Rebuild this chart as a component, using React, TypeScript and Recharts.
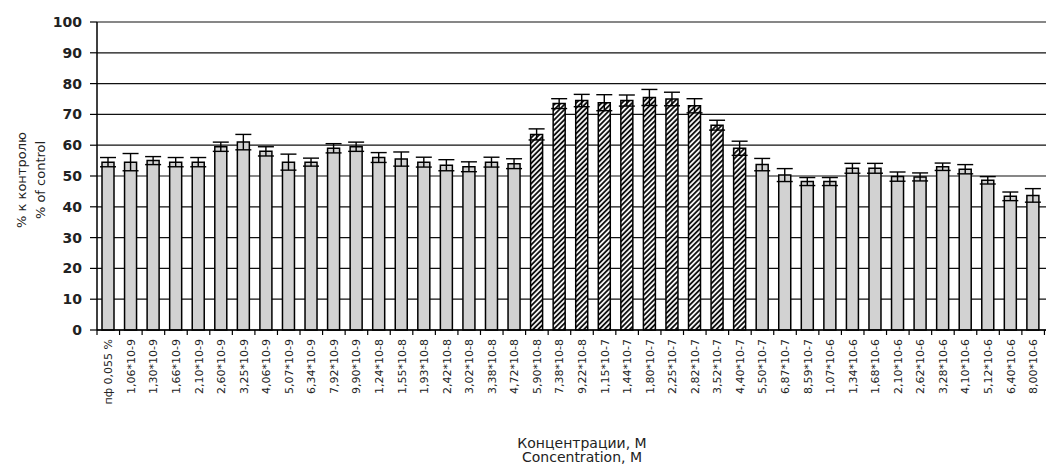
import { BarChart, Bar, XAxis, YAxis, CartesianGrid, ErrorBar, Cell } from "recharts"

const categories = [
  "пф 0,055 %", "1,06*10-9", "1,30*10-9", "1,66*10-9", "2,10*10-9", "2,60*10-9",
  "3,25*10-9", "4,06*10-9", "5,07*10-9", "6,34*10-9", "7,92*10-9", "9,90*10-9",
  "1,24*10-8", "1,55*10-8", "1,93*10-8", "2,42*10-8", "3,02*10-8", "3,38*10-8",
  "4,72*10-8", "5,90*10-8", "7,38*10-8", "9,22*10-8", "1,15*10-7", "1,44*10-7",
  "1,80*10-7", "2,25*10-7", "2,82*10-7", "3,52*10-7", "4,40*10-7", "5,50*10-7",
  "6,87*10-7", "8,59*10-7", "1,07*10-6", "1,34*10-6", "1,68*10-6", "2,10*10-6",
  "2,62*10-6", "3,28*10-6", "4,10*10-6", "5,12*10-6", "6,40*10-6", "8,00*10-6",
  "1,00*10-5",
]

// % of control
const values = [
  54.5, 54.5, 55, 54.5, 54.5, 59.5, 61, 58, 54.5, 54.5, 59, 59.5,
  56, 55.5, 54.5, 53.5, 53, 54.5, 54, 63.5, 73.5, 74.5, 73.8, 74.5,
  75.5, 75, 72.8, 66.5, 59, 53.7, 50.3, 48.2, 48.2, 52.5, 52.5, 49.8,
  49.7, 53, 52.2, 48.6, 43.4, 43.7, 43.4,
]

const errors = [
  1.5, 2.8, 1.3, 1.5, 1.5, 1.5, 2.5, 1.5, 2.6, 1.3, 1.5, 1.5,
  1.6, 2.3, 1.6, 1.8, 1.6, 1.6, 1.6, 1.8, 1.6, 2, 2.6, 1.8,
  2.6, 2.2, 2.3, 1.6, 2.3, 2, 2.1, 1.3, 1.3, 1.6, 1.6, 1.5,
  1.3, 1.2, 1.5, 1.2, 1.4, 2.2, 1.6,
]

// concentrations drawn with the hatched fill
const hatchedCategories = [
  "5,90*10-8", "7,38*10-8", "9,22*10-8", "1,15*10-7", "1,44*10-7",
  "1,80*10-7", "2,25*10-7", "2,82*10-7", "3,52*10-7", "4,40*10-7",
]

const yTicks = [0, 10, 20, 30, 40, 50, 60, 70, 80, 90, 100]

const data = categories.map((name, i) => ({
  name,
  value: values[i],
  err: errors[i],
  hatched: hatchedCategories.includes(name),
}))

const W = 1070
const H = 460
const LEFT = 89
const RIGHT = 11
const band = (W - LEFT - RIGHT) / categories.length

const XTick = (props: any) => {
  const { x, y, payload } = props
  return (
    <g>
      <line x1={x - band / 2} y1={y} x2={x - band / 2} y2={y + 5} stroke="#000" strokeWidth={1.2} />
      <text
        x={x}
        y={y + 9}
        dy={4}
        transform={`rotate(-90, ${x}, ${y + 9})`}
        textAnchor="end"
        fontFamily="DejaVu Sans"
        fontSize={11}
        fill="#222"
      >
        {payload.value}
      </text>
    </g>
  )
}

const XTitle = (props: any) => {
  const vb = props.viewBox
  const cx = vb.x + vb.width / 2
  return (
    <g fontFamily="DejaVu Sans" fontSize={14} fill="#222" textAnchor="middle">
      <text x={cx} y={vb.y + 118}>Концентрации, M</text>
      <text x={cx} y={vb.y + 132}>Concentration, M</text>
    </g>
  )
}

const YTitle = (props: any) => {
  const vb = props.viewBox
  const cy = vb.y + vb.height / 2 + 4
  return (
    <g fontFamily="DejaVu Sans" fontSize={13} fill="#222" textAnchor="middle">
      <text x={18} y={cy} transform={`rotate(-90, 18, ${cy})`}>% к контролю</text>
      <text x={37} y={cy} transform={`rotate(-90, 37, ${cy})`}>% of control</text>
    </g>
  )
}

export default function App() {
  return (
    <div style={{ width: 1046, height: 463, overflow: "hidden", background: "#fff" }}>
      <BarChart width={W} height={H} data={data} margin={{ top: 14, right: RIGHT, bottom: 0, left: 0 }}>
        <defs>
          <pattern id="hatch" width="3.6" height="3.6" patternUnits="userSpaceOnUse" patternTransform="rotate(45)">
            <rect width="3.6" height="3.6" fill="#f4f4f4" />
            <line x1="0.9" y1="0" x2="0.9" y2="3.6" stroke="#111" strokeWidth="1.8" />
          </pattern>
        </defs>
        <CartesianGrid vertical={false} stroke="#111" strokeWidth={1.2} />
        <XAxis
          dataKey="name"
          interval={0}
          height={138}
          tick={<XTick />}
          tickLine={false}
          tickSize={0}
          tickMargin={0}
          axisLine={{ stroke: "#000", strokeWidth: 1.5 }}
          label={<XTitle />}
        />
        <YAxis
          width={LEFT}
          domain={[0, 100]}
          ticks={yTicks}
          interval={0}
          tickSize={7}
          tickMargin={8}
          tickLine={{ stroke: "#000", strokeWidth: 1.2 }}
          axisLine={{ stroke: "#000", strokeWidth: 1.5 }}
          tick={{ fontFamily: "DejaVu Sans", fontWeight: "bold", fontSize: 14, fill: "#222" }}
          label={<YTitle />}
        />
        <Bar dataKey="value" barSize={12} stroke="#000" strokeWidth={1.5} isAnimationActive={false}>
          {data.map((d) => (
            <Cell key={d.name} fill={d.hatched ? "url(#hatch)" : "#d2d2d2"} />
          ))}
          <ErrorBar dataKey="err" width={8} stroke="#000" strokeWidth={1.4} direction="y" />
        </Bar>
      </BarChart>
    </div>
  )
}
